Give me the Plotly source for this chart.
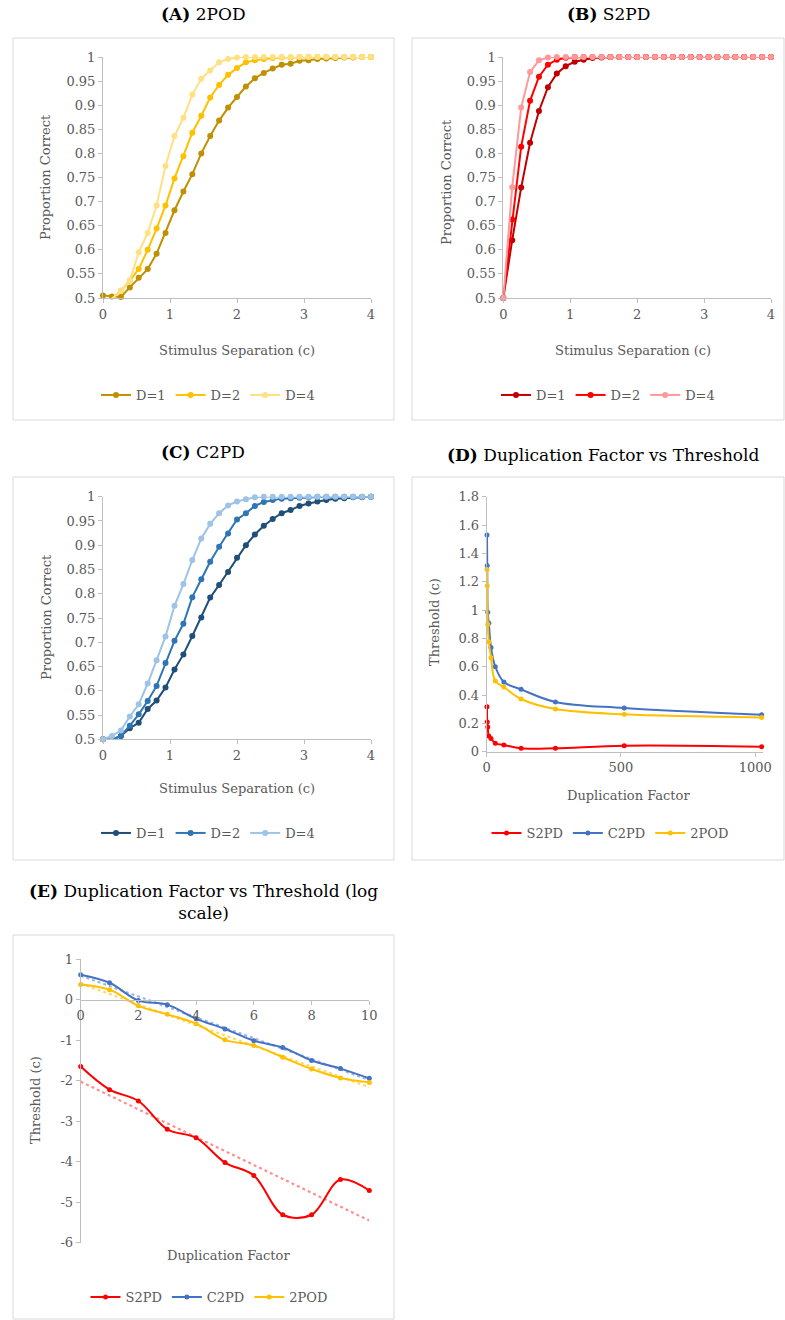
import plotly.graph_objects as go
import numpy as np

# ---------------- data ----------------
separation = [0, 0.133, 0.267, 0.4, 0.533, 0.667, 0.8, 0.933, 1.067, 1.2,
              1.333, 1.467, 1.6, 1.733, 1.867, 2.0, 2.133, 2.267, 2.4, 2.533,
              2.667, 2.8, 2.933, 3.067, 3.2, 3.333, 3.467, 3.6, 3.733, 3.867, 4.0]

pod_d1 = [0.505, 0.503, 0.502, 0.522, 0.542, 0.560, 0.592, 0.635, 0.682, 0.721,
          0.757, 0.800, 0.836, 0.868, 0.895, 0.917, 0.939, 0.956, 0.967, 0.976,
          0.984, 0.986, 0.992, 0.993, 0.996, 0.997, 0.998, 0.999, 0.999, 1.0, 1.0]
pod_d2 = [0.495, 0.499, 0.515, 0.536, 0.560, 0.600, 0.644, 0.692, 0.748, 0.794,
          0.843, 0.878, 0.916, 0.942, 0.963, 0.977, 0.989, 0.993, 0.996, 0.998,
          0.999, 0.999, 1.0, 1.0, 1.0, 1.0, 1.0, 1.0, 1.0, 1.0, 1.0]
pod_d4 = [0.497, 0.498, 0.515, 0.536, 0.595, 0.635, 0.692, 0.774, 0.836, 0.874,
          0.922, 0.955, 0.972, 0.989, 0.996, 0.999, 1.0, 1.0, 1.0, 1.0,
          1.0, 1.0, 1.0, 1.0, 1.0, 1.0, 1.0, 1.0, 1.0, 1.0, 1.0]

s2pd_d1 = [0.5, 0.620, 0.729, 0.822, 0.888, 0.9375, 0.966, 0.981, 0.990, 0.9945,
           0.998, 0.999, 1.0, 1.0, 1.0, 1.0, 1.0, 1.0, 1.0, 1.0,
           1.0, 1.0, 1.0, 1.0, 1.0, 1.0, 1.0, 1.0, 1.0, 1.0, 1.0]
s2pd_d2 = [0.5, 0.663, 0.814, 0.909, 0.959, 0.984, 0.9945, 0.9986, 1.0, 1.0,
           1.0, 1.0, 1.0, 1.0, 1.0, 1.0, 1.0, 1.0, 1.0, 1.0,
           1.0, 1.0, 1.0, 1.0, 1.0, 1.0, 1.0, 1.0, 1.0, 1.0, 1.0]
s2pd_d4 = [0.5, 0.730, 0.895, 0.969, 0.993, 0.999, 1.0, 1.0, 1.0, 1.0,
           1.0, 1.0, 1.0, 1.0, 1.0, 1.0, 1.0, 1.0, 1.0, 1.0,
           1.0, 1.0, 1.0, 1.0, 1.0, 1.0, 1.0, 1.0, 1.0, 1.0, 1.0]

c2pd_d1 = [0.5, 0.499, 0.507, 0.523, 0.534, 0.5625, 0.580, 0.607, 0.644, 0.675,
           0.713, 0.751, 0.792, 0.818, 0.845, 0.874, 0.900, 0.922, 0.940, 0.954,
           0.966, 0.9725, 0.981, 0.986, 0.990, 0.993, 0.996, 0.997, 0.999, 0.999, 1.0]
c2pd_d2 = [0.5, 0.499, 0.507, 0.528, 0.5515, 0.579, 0.610, 0.657, 0.703, 0.738,
           0.793, 0.830, 0.866, 0.897, 0.924, 0.953, 0.966, 0.981, 0.989, 0.993,
           0.996, 0.997, 0.998, 0.999, 1.0, 1.0, 1.0, 1.0, 1.0, 1.0, 1.0]
c2pd_d4 = [0.5, 0.507, 0.518, 0.547, 0.572, 0.615, 0.663, 0.712, 0.775, 0.820,
           0.8695, 0.914, 0.944, 0.966, 0.982, 0.990, 0.9945, 0.999, 1.0, 1.0,
           1.0, 1.0, 1.0, 1.0, 1.0, 1.0, 1.0, 1.0, 1.0, 1.0, 1.0]

dup_factor = [1, 2, 4, 8, 16, 32, 64, 128, 256, 512, 1024]
thr_s2pd = [0.318, 0.209, 0.174, 0.110, 0.094, 0.059, 0.047, 0.024, 0.024, 0.042, 0.035]
thr_c2pd = [1.529, 1.313, 0.984, 0.906, 0.736, 0.600, 0.492, 0.440, 0.351, 0.308, 0.261]
thr_2pod = [1.287, 1.172, 0.899, 0.776, 0.664, 0.499, 0.456, 0.372, 0.301, 0.264, 0.242]

log_dup = [0, 1, 2, 3, 4, 5, 6, 7, 8, 9, 10]
log_s2pd = [-1.65, -2.22, -2.50, -3.20, -3.41, -4.02, -4.34, -5.31, -5.31, -4.44, -4.71]
log_c2pd = [0.62, 0.42, -0.02, -0.12, -0.47, -0.72, -1.01, -1.18, -1.50, -1.70, -1.94]
log_2pod = [0.38, 0.25, -0.15, -0.36, -0.59, -0.99, -1.13, -1.42, -1.71, -1.93, -2.04]

pc_ticks = [0.5, 0.55, 0.6, 0.65, 0.7, 0.75, 0.8, 0.85, 0.9, 0.95, 1]
pc_labels = ["0.5", "0.55", "0.6", "0.65", "0.7", "0.75", "0.8", "0.85", "0.9", "0.95", "1"]
thr_ticks = [0, 0.2, 0.4, 0.6, 0.8, 1, 1.2, 1.4, 1.6, 1.8]
thr_labels = ["0", "0.2", "0.4", "0.6", "0.8", "1", "1.2", "1.4", "1.6", "1.8"]
log_ticks = [1, 0, -1, -2, -3, -4, -5, -6]
log_labels = ["1", "0", "-1", "-2", "-3", "-4", "-5", "-6"]

# ---------------- layout helpers ----------------
W, H = 785, 1320
FONT = "DejaVu Serif"
GREY = "#595959"
AXC = "#BFBFBF"


def fx(p):
    return p / W


def fy(p):
    return 1 - p / H


fig = go.Figure()


def add_series(x, y, name, color, ax, legend, size=6, shape="linear", show=True):
    fig.add_trace(go.Scatter(
        x=x, y=y, name=name, mode="lines+markers",
        line=dict(color=color, width=2, shape=shape),
        marker=dict(color=color, size=size),
        xaxis="x" + ("" if ax == 1 else str(ax)),
        yaxis="y" + ("" if ax == 1 else str(ax)),
        legend=legend, showlegend=show, cliponaxis=False))


def add_trend(x, y, color, ax, legend):
    k, b = np.polyfit(x, y, 1)
    xs = [x[0], x[-1]]
    fig.add_trace(go.Scatter(
        x=xs, y=[k * v + b for v in xs], mode="lines",
        line=dict(color=color, width=2.2, dash="dot"),
        xaxis="x" + str(ax), yaxis="y" + str(ax), legend=legend,
        showlegend=False, hoverinfo="skip", cliponaxis=False))


# A
add_series(separation, pod_d1, "D=1", "#BF9000", 1, "legend")
add_series(separation, pod_d2, "D=2", "#FFC000", 1, "legend")
add_series(separation, pod_d4, "D=4", "#FFE083", 1, "legend")
# B
add_series(separation, s2pd_d1, "D=1", "#C00000", 2, "legend2")
add_series(separation, s2pd_d2, "D=2", "#FF0000", 2, "legend2")
add_series(separation, s2pd_d4, "D=4", "#FF9999", 2, "legend2")
# C
add_series(separation, c2pd_d1, "D=1", "#1F4E79", 3, "legend3")
add_series(separation, c2pd_d2, "D=2", "#2E75B6", 3, "legend3")
add_series(separation, c2pd_d4, "D=4", "#9DC3E6", 3, "legend3")
# D
add_series(dup_factor, thr_s2pd, "S2PD", "#FF0000", 4, "legend4", size=5, shape="spline")
add_series(dup_factor, thr_c2pd, "C2PD", "#4472C4", 4, "legend4", size=5, shape="spline")
add_series(dup_factor, thr_2pod, "2POD", "#FFC000", 4, "legend4", size=5, shape="spline")
# E
add_trend(log_dup, log_s2pd, "#FF9090", 5, "legend5")
add_trend(log_dup, log_c2pd, "#9DB5E6", 5, "legend5")
add_trend(log_dup, log_2pod, "#FFD966", 5, "legend5")
add_series(log_dup, log_s2pd, "S2PD", "#FF0000", 5, "legend5", size=5, shape="spline")
add_series(log_dup, log_c2pd, "C2PD", "#4472C4", 5, "legend5", size=5, shape="spline")
add_series(log_dup, log_2pod, "2POD", "#FFC000", 5, "legend5", size=5, shape="spline")

tickfont = dict(family=FONT, size=13, color=GREY)
axbase = dict(showgrid=False, zeroline=False, showline=True, linecolor=AXC,
              linewidth=1, ticks="outside", tickcolor=AXC, ticklen=4,
              tickfont=tickfont, fixedrange=True, automargin=False)

layout = dict(width=W, height=H,
              margin=dict(l=0, r=0, t=0, b=0, pad=0, autoexpand=False),
              paper_bgcolor="white", plot_bgcolor="white",
              font=dict(family=FONT, color=GREY), hovermode=False)

panels = {
    1: dict(x=(103, 371), y=(57, 298)),
    2: dict(x=(503.3, 771), y=(57, 298)),
    3: dict(x=(103, 371), y=(496.7, 739.3)),
}
for i, p in panels.items():
    s = "" if i == 1 else str(i)
    layout["xaxis" + s] = dict(axbase, domain=[fx(p["x"][0]), fx(p["x"][1])],
                               range=[0, 4], tickvals=[0, 1, 2, 3, 4],
                               anchor="y" + s)
    layout["yaxis" + s] = dict(axbase, domain=[fy(p["y"][1]), fy(p["y"][0])],
                               range=[0.5, 1], tickvals=pc_ticks,
                               ticktext=pc_labels, anchor="x" + s)

layout["xaxis4"] = dict(axbase, domain=[fx(486.7), fx(763.3)], range=[0, 1030],
                        tickvals=[0, 500, 1000], anchor="y4")
layout["yaxis4"] = dict(axbase, domain=[fy(751.7), fy(496.7)], range=[0, 1.8],
                        tickvals=thr_ticks, ticktext=thr_labels, anchor="x4")

e_top, e_bot = 959.3, 1242.7
e_zero = e_top + (e_bot - e_top) / 7.0
layout["xaxis5"] = dict(axbase, domain=[fx(80.7), fx(369.3)], range=[0, 10],
                        tickvals=[0, 2, 4, 6, 8, 10], anchor="free",
                        position=fy(e_zero))
layout["yaxis5"] = dict(axbase, domain=[fy(e_bot), fy(e_top)], range=[-6, 1],
                        tickvals=log_ticks, ticktext=log_labels, anchor="x5")

legfont = dict(family=FONT, size=13, color=GREY)


def leg(cx, cy):
    return dict(orientation="h", x=fx(cx), y=fy(cy), xanchor="center",
                yanchor="middle", font=legfont, bgcolor="rgba(0,0,0,0)",
                itemclick=False, itemdoubleclick=False, tracegroupgap=0)


layout["legend"] = leg(208, 395)
layout["legend2"] = leg(608, 395)
layout["legend3"] = leg(208, 833)
layout["legend4"] = leg(610, 833)
layout["legend5"] = leg(209, 1297)

# panel frames
shapes = []
for (x0, x1, y0, y1) in [(13, 394, 38, 420), (412, 784, 38, 420),
                         (13, 394, 477, 860), (412, 784, 477, 860),
                         (13, 394, 935, 1319)]:
    shapes.append(dict(type="rect", xref="paper", yref="paper",
                       x0=fx(x0), x1=fx(x1), y0=fy(y1), y1=fy(y0),
                       line=dict(color="#D9D9D9", width=1), layer="below"))
layout["shapes"] = shapes

ann = []
titlefont = dict(family=FONT, size=17, color="black")
for (txt, cx, cy) in [("<b>(A)</b> 2POD", 203, 14), ("<b>(B)</b> S2PD", 608, 14),
                      ("<b>(C)</b> C2PD", 203, 452),
                      ("<b>(D)</b> Duplication Factor vs Threshold", 603, 455),
                      ("<b>(E)</b> Duplication Factor vs Threshold (log<br>scale)", 203, 902)]:
    ann.append(dict(text=txt, x=fx(cx), y=fy(cy), xref="paper", yref="paper",
                    xanchor="center", yanchor="middle", showarrow=False,
                    font=titlefont))

axtitle = dict(family=FONT, size=13, color=GREY)
for (txt, cx, cy, ang) in [
        ("Proportion Correct", 46, 177, -90), ("Stimulus Separation (c)", 237, 350, 0),
        ("Proportion Correct", 446, 182, -90), ("Stimulus Separation (c)", 633, 350, 0),
        ("Proportion Correct", 46, 617, -90), ("Stimulus Separation (c)", 237, 788, 0),
        ("Threshold (c)", 434, 622, -90), ("Duplication Factor", 628, 795, 0),
        ("Threshold (c)", 35, 1100, -90), ("Duplication Factor", 228, 1255, 0)]:
    ann.append(dict(text=txt, x=fx(cx), y=fy(cy), xref="paper", yref="paper",
                    xanchor="center", yanchor="middle", showarrow=False,
                    textangle=ang, font=axtitle))
layout["annotations"] = ann

fig.update_layout(**layout)
fig.write_html("out.html")
